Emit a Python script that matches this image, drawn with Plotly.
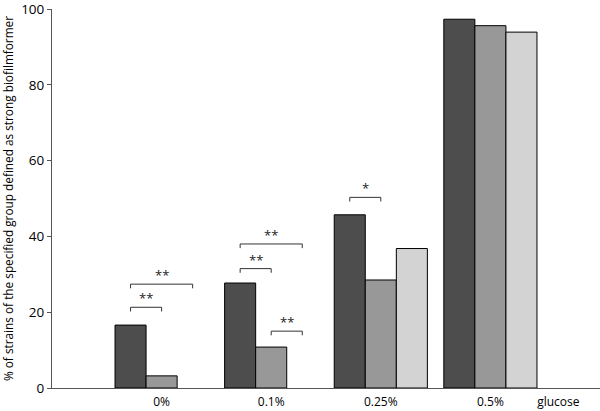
import plotly.graph_objects as go

# glucose concentrations (x categories)
groups = ["0%", "0.1%", "0.25%", "0.5%"]
group_pos = [0, 1, 2, 3]

# % strong biofilm formers per strain group
dark_vals = [16.6, 27.7, 45.7, 97.3]
mid_vals = [3.2, 10.8, 28.5, 95.6]
light_vals = [None, None, 36.8, 93.9]

# significance brackets: (group index, bar from, bar to, y level, label)
brackets = [
    (0, 0, 1, 21.3, "**"),
    (0, 0, 2, 27.4, "**"),
    (1, 0, 1, 31.5, "**"),
    (1, 0, 2, 38.0, "**"),
    (1, 1, 2, 15.0, "**"),
    (2, 0, 1, 50.3, "*"),
]

fig = go.Figure()
line = dict(color="black", width=1)
fig.add_bar(x=group_pos, y=dark_vals, marker=dict(color="#4d4d4d", line=line))
fig.add_bar(x=group_pos, y=mid_vals, marker=dict(color="#989898", line=line))
fig.add_bar(x=group_pos, y=light_vals, marker=dict(color="#d3d3d3", line=line))

bargap = 0.15
bw = (1 - bargap) / 3
offs = [-bw, 0, bw]
for g, a, b, yv, lab in brackets:
    x0 = group_pos[g] + offs[a]
    x1 = group_pos[g] + offs[b]
    fig.add_shape(type="path",
                  path=f"M {x0},{yv-1.1} L {x0},{yv} L {x1},{yv} L {x1},{yv-1.1}",
                  line=dict(color="#333333", width=1))
    fig.add_annotation(x=(x0 + x1) / 2, y=yv, text=lab, showarrow=False,
                       yanchor="bottom", yshift=-2,
                       font=dict(size=13, color="#222222"))

fig.update_layout(
    width=600, height=411,
    margin=dict(l=52, r=0, t=9, b=23),
    paper_bgcolor="white", plot_bgcolor="white",
    barmode="group", bargap=bargap, bargroupgap=0,
    showlegend=False,
    font=dict(family="Open Sans", color="black", size=11),
    xaxis=dict(range=[-1, 4], tickvals=group_pos + [3.62],
               ticktext=groups + ["glucose"], ticks="", ticklen=0,
               showgrid=False, zeroline=False, showline=True,
               linecolor="#555555", linewidth=1, automargin=False,
               ticklabelstandoff=3, ticklabeloverflow="allow",
               tickfont=dict(size=12)),
    yaxis=dict(range=[0, 100], tickvals=[0, 20, 40, 60, 80, 100],
               ticks="outside", ticklen=4, tickcolor="#555555",
               showgrid=False, zeroline=False, showline=True,
               linecolor="#555555", linewidth=1, automargin=False,
               ticklabeloverflow="allow",
               tickfont=dict(size=13.5),
               title=dict(text="% of strains of the specified group defined as strong biofilmformer",
                          font=dict(size=11.8), standoff=4)),
)

# the page body has an 8px default margin; drop it so the figure fills the window
fig.write_html("out.html", config={"displayModeBar": False},
               post_script="document.body.style.margin='0';")
